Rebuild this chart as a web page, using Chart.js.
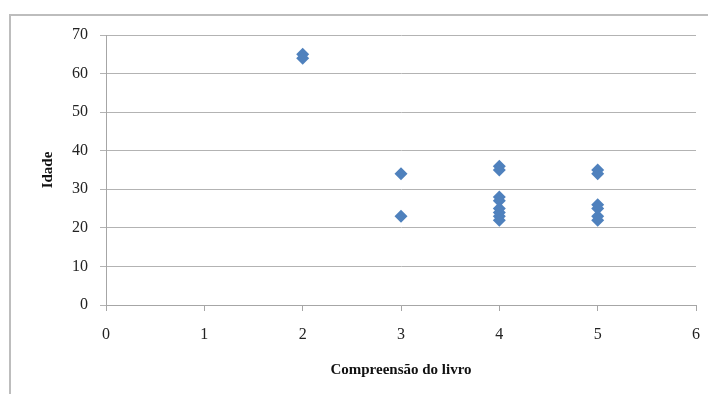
<!DOCTYPE html>
<html>
<head>
<meta charset="utf-8">
<script src="https://cdn.jsdelivr.net/npm/chart.js@4"></script>
<style>
  body{margin:0;background:#fff;}
  #wrap{width:708px;height:394px;position:relative;}
</style>
</head>
<body>
<div id="wrap"><canvas id="myChart"></canvas></div>
<script>
// compreensao do livro (x) vs idade (y)
const compreensao=[2,2,3,3,4,4,4,4,4,4,4,4,5,5,5,5,5,5]
const idade=[65,64,34,23,36,35,28,27,25,24,23,22,35,34,26,25,23,22]
const xTicks=[0,1,2,3,4,5,6]
const yTicks=[0,10,20,30,40,50,60,70]

const points=compreensao.map((c,i)=>({x:c,y:idade[i]}))

// outer frame like the excel chart box
const frame={
  id:'frame',
  beforeDraw(chart){
    const ctx=chart.ctx
    ctx.save()
    ctx.strokeStyle='#bdbdbd'
    ctx.lineWidth=2
    ctx.beginPath()
    ctx.moveTo(10,394)
    ctx.lineTo(10,15)
    ctx.lineTo(708,15)
    ctx.stroke()
    ctx.restore()
  }
}

const font='"Liberation Serif", "DejaVu Serif", serif'

new Chart(document.getElementById('myChart'),{
  type:'scatter',
  data:{
    datasets:[{
      label:'Idade',
      data:points,
      pointStyle:'rectRot',
      pointRadius:6.5,
      pointHoverRadius:6.5,
      backgroundColor:'#4f81bd',
      borderColor:'#4f81bd',
      borderWidth:0
    }]
  },
  options:{
    responsive:true,
    maintainAspectRatio:false,
    animation:false,
    layout:{padding:{left:10,top:35,right:12,bottom:0}},
    plugins:{legend:{display:false},tooltip:{enabled:false}},
    scales:{
      x:{
        type:'linear',
        min:xTicks[0],
        max:xTicks[xTicks.length-1],
        afterBuildTicks(s){s.ticks=xTicks.map(v=>({value:v}))},
        afterFit(s){s.height=89;s.paddingLeft=0;s.paddingRight=0},
        border:{color:'#a6a6a6',width:1},
        grid:{drawOnChartArea:false,drawTicks:true,tickLength:6,color:'#a6a6a6'},
        ticks:{color:'#222',padding:14,font:{family:font,size:16},maxRotation:0},
        title:{display:true,text:'Compreensão do livro',color:'#111',
          font:{family:font,size:15,weight:'bold'},padding:{top:4,bottom:15}}
      },
      y:{
        type:'linear',
        min:yTicks[0],
        max:yTicks[yTicks.length-1],
        afterBuildTicks(s){s.ticks=yTicks.map(v=>({value:v}))},
        afterFit(s){s.width=96;s.paddingTop=0;s.paddingBottom=0},
        border:{color:'#a6a6a6',width:1},
        grid:{color:'#b3b3b3',lineWidth:1,tickLength:6},
        ticks:{color:'#222',padding:12,font:{family:font,size:16}},
        title:{display:true,text:'Idade',color:'#111',
          font:{family:font,size:15,weight:'bold'},padding:{top:29,bottom:4}}
      }
    }
  },
  plugins:[frame]
})
</script>
</body>
</html>
